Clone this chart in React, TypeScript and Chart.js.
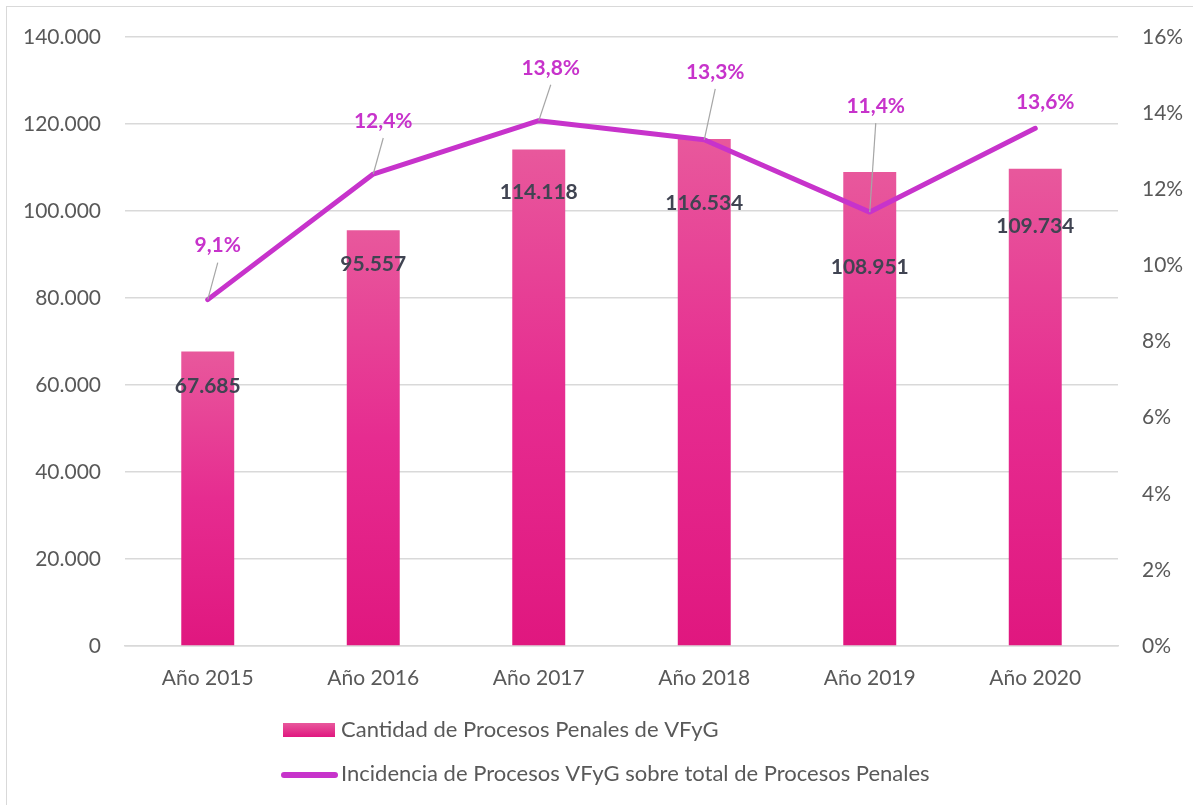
import React, { useEffect, useRef } from "react";
import { Chart, registerables } from "chart.js";

Chart.register(...registerables);

const categories = ["Año 2015", "Año 2016", "Año 2017", "Año 2018", "Año 2019", "Año 2020"];
const procesos = [67685, 95557, 114118, 116534, 108951, 109734];
const incidencia = [9.1, 12.4, 13.8, 13.3, 11.4, 13.6];
const barLabels = ["67.685", "95.557", "114.118", "116.534", "108.951", "109.734"];
const lineLabels = ["9,1%", "12,4%", "13,8%", "13,3%", "11,4%", "13,6%"];
const seriesNames = [
  "Cantidad de Procesos Penales de VFyG",
  "Incidencia de Procesos VFyG sobre total de Procesos Penales",
];

// label placement (layout only)
const barLabelDy = [35, 34, 43, 64, 95, 58];
const lineLabelDx = [10, 10, 12, 11, 6, 10];
const lineLabelDy = [-54, -53, -53, -68, -106, -26];

const FONT = "Lato, 'Open Sans', sans-serif";
const TEXT = "#595959";
const PURPLE = "#c733cb";

const fmtThousands = (v: number) =>
  String(v).replace(/\B(?=(\d{3})+(?!\d))/g, ".");

const overlayPlugin = {
  id: "overlay",
  beforeDraw(chart: any) {
    const ctx = chart.ctx;
    ctx.save();
    ctx.strokeStyle = "#d9d9d9";
    ctx.lineWidth = 1;
    ctx.strokeRect(6.5, 6.5, chart.width + 20, chart.height + 20);
    ctx.restore();
  },
  afterDatasetsDraw(chart: any) {
    const ctx = chart.ctx;
    const barMeta = chart.getDatasetMeta(0);
    const lineMeta = chart.getDatasetMeta(1);
    ctx.save();
    ctx.font = `bold 21px ${FONT}`;
    ctx.fillStyle = "#404452";
    ctx.textAlign = "center";
    ctx.textBaseline = "middle";
    barMeta.data.forEach((el: any, i: number) => {
      ctx.fillText(barLabels[i], el.x, el.y + barLabelDy[i]);
    });
    lineMeta.data.forEach((el: any, i: number) => {
      const lx = el.x + lineLabelDx[i];
      const ly = el.y + lineLabelDy[i];
      if (Math.abs(lineLabelDy[i]) > 35) {
        ctx.strokeStyle = "#a6a6a6";
        ctx.lineWidth = 1.2;
        ctx.beginPath();
        ctx.moveTo(lx, ly + 17);
        ctx.lineTo(el.x, el.y);
        ctx.stroke();
      }
    });
    ctx.font = `bold 21px ${FONT}`;
    ctx.fillStyle = PURPLE;
    lineMeta.data.forEach((el: any, i: number) => {
      ctx.fillText(lineLabels[i], el.x + lineLabelDx[i], el.y + lineLabelDy[i]);
    });
    ctx.restore();
  },
  afterDraw(chart: any) {
    const ctx = chart.ctx;
    ctx.save();
    const g = ctx.createLinearGradient(0, 723, 0, 737);
    g.addColorStop(0, "#e8589c");
    g.addColorStop(1, "#e0177f");
    ctx.fillStyle = g;
    ctx.fillRect(283, 723, 52, 14);
    ctx.strokeStyle = PURPLE;
    ctx.lineWidth = 6;
    ctx.lineCap = "round";
    ctx.beginPath();
    ctx.moveTo(284, 775);
    ctx.lineTo(335, 775);
    ctx.stroke();
    ctx.font = `22px ${FONT}`;
    ctx.fillStyle = TEXT;
    ctx.textAlign = "left";
    ctx.textBaseline = "middle";
    ctx.fillText(seriesNames[0], 341, 730);
    ctx.fillText(seriesNames[1], 341, 774);
    ctx.restore();
  },
};

export default function App() {
  const ref = useRef<HTMLCanvasElement | null>(null);
  useEffect(() => {
    if (!ref.current) return;
    const chart = new Chart(ref.current, {
      type: "bar",
      data: {
        labels: categories,
        datasets: [
          {
            type: "bar",
            label: seriesNames[0],
            data: procesos,
            yAxisID: "y",
            order: 2,
            categoryPercentage: 1,
            barPercentage: 0.32,
            backgroundColor: (c: any) => {
              const chart = c.chart;
              const ys = chart.scales?.y;
              if (!ys || c.dataIndex === undefined || !chart.chartArea) return "#e4388e";
              const top = ys.getPixelForValue(procesos[c.dataIndex]);
              const bottom = ys.getPixelForValue(0);
              const g = chart.ctx.createLinearGradient(0, top, 0, bottom);
              g.addColorStop(0, "#e8589c");
              g.addColorStop(0.5, "#e62c90");
              g.addColorStop(1, "#e0177f");
              return g;
            },
          } as any,
          {
            type: "line",
            label: seriesNames[1],
            data: incidencia,
            yAxisID: "y1",
            order: 1,
            borderColor: PURPLE,
            borderWidth: 5,
            borderCapStyle: "round",
            borderJoinStyle: "round",
            pointRadius: 0,
            tension: 0,
          } as any,
        ],
      },
      options: {
        responsive: false,
        animation: false,
        layout: { padding: { top: 37, left: 0, right: 0, bottom: 0 } },
        plugins: {
          legend: { display: false },
          tooltip: { enabled: false },
        },
        scales: {
          x: {
            grid: { display: false, drawTicks: false },
            border: { display: true, color: "#d9d9d9", width: 1.5 },
            ticks: { color: TEXT, font: { family: FONT, size: 21 }, padding: 20 },
            afterFit: (s: any) => {
              s.height = 159;
            },
          },
          y: {
            position: "left",
            min: 0,
            max: 140000,
            grid: { color: "#d9d9d9", lineWidth: 1.5, drawTicks: false },
            border: { display: false },
            ticks: {
              stepSize: 20000,
              color: TEXT,
              font: { family: FONT, size: 21 },
              padding: 24,
              callback: (v: any) => fmtThousands(Number(v)),
            },
            afterFit: (s: any) => {
              s.width = 125;
            },
          },
          y1: {
            position: "right",
            min: 0,
            max: 16,
            grid: { display: false, drawTicks: false },
            border: { display: false },
            ticks: {
              stepSize: 2,
              color: TEXT,
              font: { family: FONT, size: 21 },
              padding: 24,
              callback: (v: any) => `${v}%`,
            },
            afterFit: (s: any) => {
              s.width = 75;
            },
          },
        },
      },
      plugins: [overlayPlugin],
    });
    return () => chart.destroy();
  }, []);
  return (
    <div style={{ position: "fixed", left: 0, top: 0, width: 1193, height: 805, background: "#fff" }}>
      <canvas ref={ref} width={1193} height={805} style={{ display: "block" }} />
    </div>
  );
}
